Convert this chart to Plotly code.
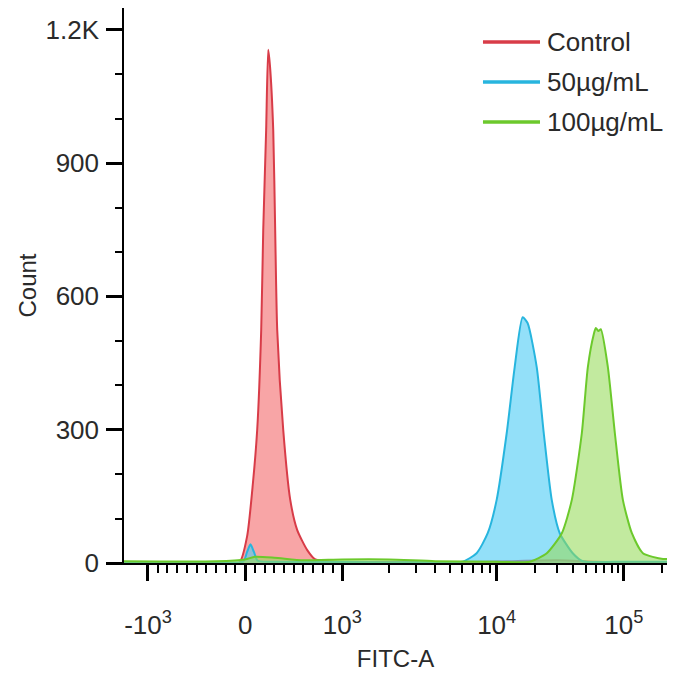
import numpy as np
import plotly.graph_objects as go

# ---------------- data (FITC-A intensity, cell count) ----------------
series_names = ["Control", "50µg/mL", "100µg/mL"]

control_fitc = [-1430, -300, -60, 20, 80, 124, 165, 186, 216, 237, 255, 289, 309, 330, 392, 464,
                536, 639, 722, 900, 2000, 6000, 12000, 30000, 60000, 150000, 262144]
control_count = [0, 0, 1, 60, 180, 300, 524, 749, 974, 1155, 1120, 974, 749, 524, 299, 142,
                 74, 29, 8, 3, 2, 2, 4, 6, 3, 1, 0]

dose50_fitc = [-1430, -300, -20, 20, 55, 90, 130, 300, 1000, 4000, 6015, 7413, 8750, 10000,
               11990, 13860, 16000, 17500, 20650, 23460, 27100, 31340, 39650, 47570, 100000, 262144]
dose50_count = [2, 2, 3, 25, 42, 25, 5, 3, 2, 2, 3, 22, 67, 142,
                292, 441, 553, 540, 441, 292, 142, 67, 22, 4, 3, 3]

dose100_fitc = [-1430, -300, 0, 100, 300, 600, 1000, 2000, 4000, 10000, 18180, 24780, 32520,
                38990, 46710, 52090, 58000, 60200, 63000, 65900, 74840, 84970, 98200, 115600,
                141200, 203000, 262144]
dose100_count = [4, 4, 8, 14, 12, 6, 8, 8, 4, 3, 3, 22, 67,
                 142, 292, 441, 515, 529, 522, 526, 441, 292, 142, 67,
                 22, 9, 10]

x_major_vals = [-1000, 0, 1000, 10000, 100000]
x_major_text = ["-10<sup>3</sup>", "0", "10<sup>3</sup>", "10<sup>4</sup>", "10<sup>5</sup>"]
x_minor_vals = ([-v for v in range(100, 1000, 100)] + list(range(100, 1000, 100)) +
                list(range(2000, 10000, 1000)) + list(range(20000, 100000, 10000)) + [200000])

y_major_vals = [0, 300, 600, 900, 1200]
y_major_text = ["0", "300", "600", "900", "1.2K"]
y_minor_vals = [100, 200, 400, 500, 700, 800, 1000, 1100]

x_limits = [-1430, 218300]
y_limits = [0, 1249]

# ---------------- biexponential-like display transform ----------------
LIN_WIDTH = 1000.0
D1 = 1.588   # display width of decade 10^3..10^4 (in linear-unit widths)
D2 = 1.309   # display width of decades above 10^4


def biex(v):
    v = np.asarray(v, dtype=float)
    a = np.maximum(np.abs(v), 1e-9)
    mid = 1 + D1 * np.log10(a / LIN_WIDTH)
    high = 1 + D1 + D2 * np.log10(a / 1e4)
    mag = np.where(a <= LIN_WIDTH, a / LIN_WIDTH, np.where(a <= 1e4, mid, high))
    return np.sign(v) * mag


line_colors = ["#d83c48", "#27b5de", "#6cc92c"]
fill_colors = ["rgba(243,110,112,0.62)", "rgba(80,205,245,0.62)", "rgba(150,218,90,0.58)"]

fig = go.Figure()
for name, xs, ys, lc, fc in zip(series_names,
                                [control_fitc, dose50_fitc, dose100_fitc],
                                [control_count, dose50_count, dose100_count],
                                line_colors, fill_colors):
    fig.add_trace(go.Scatter(
        x=biex(xs), y=ys, name=name, mode="lines",
        line=dict(color=lc, width=2, shape="spline", smoothing=0.6),
        fill="tozeroy", fillcolor=fc, showlegend=False,
    ))

FONT = "Liberation Sans, Arial, sans-serif"
TXT = "#2a2a2a"

# the page body adds an 8px margin, so the figure is sized to fit the window without scrolling
fig.update_layout(
    width=659, height=664,
    margin=dict(l=116, r=0, t=0, b=109, pad=0),
    paper_bgcolor="white", plot_bgcolor="white",
    font=dict(family=FONT, size=26, color=TXT),
    showlegend=False,
    xaxis=dict(
        automargin=False,
        range=list(biex(x_limits)),
        tickmode="array", tickvals=list(biex(x_major_vals)), ticktext=x_major_text,
        ticks="outside", ticklen=16, tickwidth=3, tickcolor="black",
        minor=dict(tickmode="array", tickvals=list(biex(x_minor_vals)), ticks="outside",
                   ticklen=8, tickwidth=1.5, tickcolor="black", showgrid=False),
        showline=True, linecolor="black", linewidth=1.5, mirror=True,
        showgrid=False, zeroline=False,
        tickfont=dict(size=26, color=TXT),
        ticklabelstandoff=22,
        title=dict(text="FITC-A", font=dict(size=24, color=TXT), standoff=13),
    ),
    yaxis=dict(
        automargin=False,
        range=y_limits,
        tickmode="array", tickvals=y_major_vals, ticktext=y_major_text,
        ticks="outside", ticklen=16, tickwidth=3, tickcolor="black",
        minor=dict(tickmode="array", tickvals=y_minor_vals, ticks="outside",
                   ticklen=7, tickwidth=1.5, tickcolor="black", showgrid=False),
        showline=True, linecolor="black", linewidth=1.5, mirror=False,
        showgrid=False, zeroline=False,
        tickfont=dict(size=26, color=TXT),
        ticklabelstandoff=2,
        title=dict(text="Count", font=dict(size=24, color=TXT), standoff=2),
    ),
)

# legend drawn as line samples + labels in the top-right corner
legend_y = [0.9387, 0.8667, 0.7946]
for name, lc, ly in zip(series_names, line_colors, legend_y):
    fig.add_shape(type="line", xref="paper", yref="paper", x0=0.6611, x1=0.7661, y0=ly, y1=ly,
                  line=dict(color=lc, width=3.5))
    fig.add_annotation(xref="paper", yref="paper", x=0.776, y=ly, text=name, showarrow=False,
                       xanchor="left", yanchor="middle", font=dict(size=26, color=TXT, family=FONT))

fig.write_html("out.html")
